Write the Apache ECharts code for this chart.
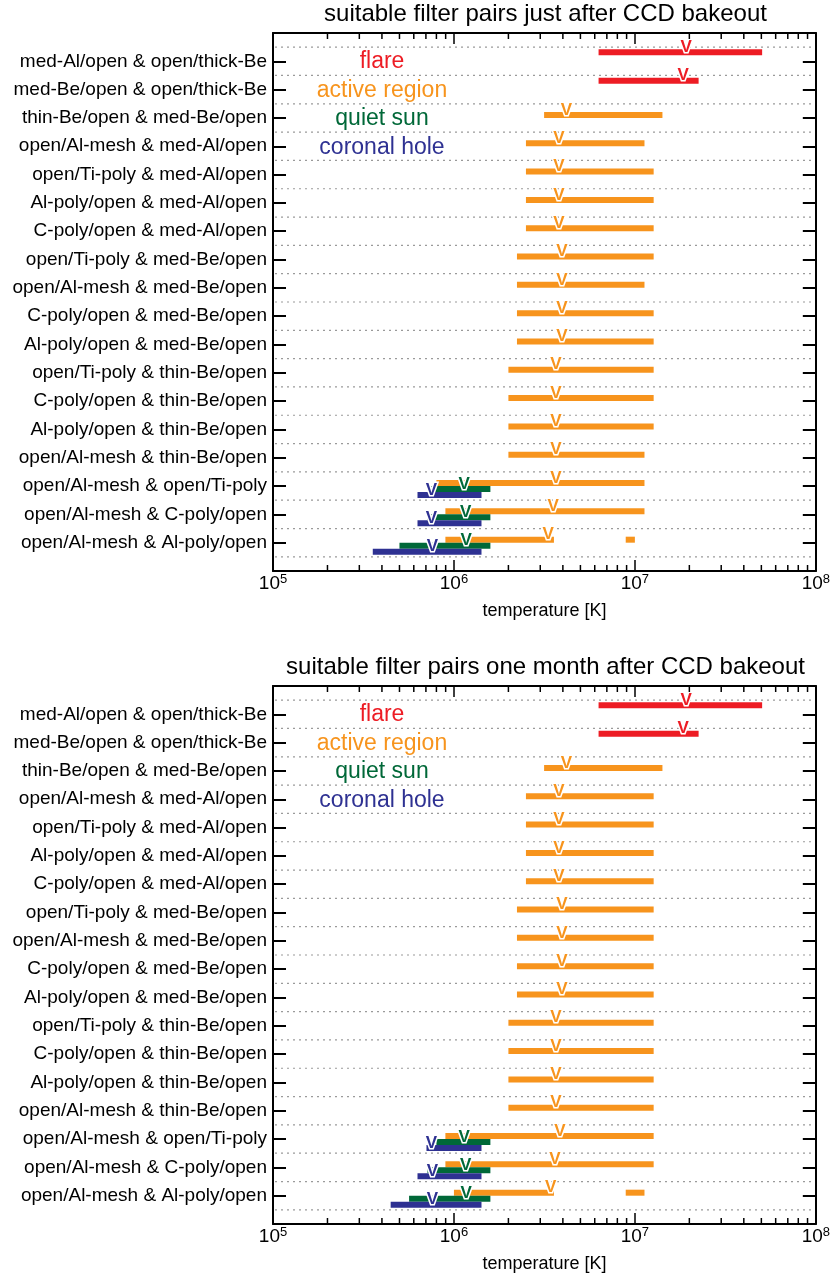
<!DOCTYPE html>
<html>
<head>
<meta charset="utf-8">
<script src="https://cdn.jsdelivr.net/npm/echarts@6/dist/echarts.min.js"></script>
<style>
html,body{margin:0;padding:0;background:#fff;}
#chart{width:833px;height:1278px;}
</style>
</head>
<body>
<div id="chart"></div>
<script>
// ---------------- data ----------------
const categories = [
  'med-Al/open & open/thick-Be',
  'med-Be/open & open/thick-Be',
  'thin-Be/open & med-Be/open',
  'open/Al-mesh & med-Al/open',
  'open/Ti-poly & med-Al/open',
  'Al-poly/open & med-Al/open',
  'C-poly/open & med-Al/open',
  'open/Ti-poly & med-Be/open',
  'open/Al-mesh & med-Be/open',
  'C-poly/open & med-Be/open',
  'Al-poly/open & med-Be/open',
  'open/Ti-poly & thin-Be/open',
  'C-poly/open & thin-Be/open',
  'Al-poly/open & thin-Be/open',
  'open/Al-mesh & thin-Be/open',
  'open/Al-mesh & open/Ti-poly',
  'open/Al-mesh & C-poly/open',
  'open/Al-mesh & Al-poly/open'
];
const chartTitles = [
  'suitable filter pairs just after CCD bakeout',
  'suitable filter pairs one month after CCD bakeout'
];
const regionNames = ['flare', 'active region', 'quiet sun', 'coronal hole'];
const xMinorTicks = [2e5,3e5,4e5,5e5,6e5,7e5,8e5,9e5, 2e6,3e6,4e6,5e6,6e6,7e6,8e6,9e6, 2e7,3e7,4e7,5e7,6e7,7e7,8e7,9e7];

// segments: [row, T_low, T_high] ; peaks: [row, T_peak]   (temperature in K)
const flareSegTop = [[0, 6.3e6, 5.05e7], [1, 6.3e6, 2.25e7]];
const flarePeakTop = [[0, 1.92e7], [1, 1.85e7]];
const activeSegTop = [
  [2, 3.15e6, 1.42e7], [3, 2.5e6, 1.13e7], [4, 2.5e6, 1.27e7], [5, 2.5e6, 1.27e7],
  [6, 2.5e6, 1.27e7], [7, 2.23e6, 1.27e7], [8, 2.23e6, 1.13e7], [9, 2.23e6, 1.27e7],
  [10, 2.23e6, 1.27e7], [11, 2.0e6, 1.27e7], [12, 2.0e6, 1.27e7], [13, 2.0e6, 1.27e7],
  [14, 2.0e6, 1.13e7], [15, 8.0e5, 1.13e7], [16, 8.97e5, 1.13e7], [17, 8.97e5, 3.57e6],
  [17, 8.9e6, 1.0e7]
];
const activePeakTop = [
  [2, 4.19e6], [3, 3.8e6], [4, 3.8e6], [5, 3.8e6], [6, 3.8e6], [7, 3.95e6], [8, 3.95e6],
  [9, 3.95e6], [10, 3.95e6], [11, 3.66e6], [12, 3.66e6], [13, 3.66e6], [14, 3.66e6],
  [15, 3.66e6], [16, 3.53e6], [17, 3.32e6]
];
const quietSegTop = [[15, 7.5e5, 1.59e6], [16, 7.14e5, 1.59e6], [17, 5.0e5, 1.59e6]];
const quietPeakTop = [[15, 1.14e6], [16, 1.16e6], [17, 1.17e6]];
const coronalSegTop = [[15, 6.29e5, 1.42e6], [16, 6.29e5, 1.42e6], [17, 3.56e5, 1.42e6]];
const coronalPeakTop = [[15, 7.5e5], [16, 7.5e5], [17, 7.6e5]];

const flareSegBot = [[0, 6.3e6, 5.05e7], [1, 6.3e6, 2.25e7]];
const flarePeakBot = [[0, 1.92e7], [1, 1.85e7]];
const activeSegBot = [
  [2, 3.15e6, 1.42e7], [3, 2.5e6, 1.27e7], [4, 2.5e6, 1.27e7], [5, 2.5e6, 1.27e7],
  [6, 2.5e6, 1.27e7], [7, 2.23e6, 1.27e7], [8, 2.23e6, 1.27e7], [9, 2.23e6, 1.27e7],
  [10, 2.23e6, 1.27e7], [11, 2.0e6, 1.27e7], [12, 2.0e6, 1.27e7], [13, 2.0e6, 1.27e7],
  [14, 2.0e6, 1.27e7], [15, 8.97e5, 1.27e7], [16, 8.97e5, 1.27e7], [17, 1.0e6, 3.57e6],
  [17, 8.9e6, 1.13e7]
];
const activePeakBot = [
  [2, 4.19e6], [3, 3.8e6], [4, 3.8e6], [5, 3.8e6], [6, 3.8e6], [7, 3.95e6], [8, 3.95e6],
  [9, 3.95e6], [10, 3.95e6], [11, 3.66e6], [12, 3.66e6], [13, 3.66e6], [14, 3.66e6],
  [15, 3.85e6], [16, 3.62e6], [17, 3.42e6]
];
const quietSegBot = [[15, 8.0e5, 1.59e6], [16, 7.14e5, 1.59e6], [17, 5.65e5, 1.59e6]];
const quietPeakBot = [[15, 1.14e6], [16, 1.16e6], [17, 1.17e6]];
const coronalSegBot = [[15, 7.05e5, 1.42e6], [16, 6.29e5, 1.42e6], [17, 4.47e5, 1.42e6]];
const coronalPeakBot = [[15, 7.51e5], [16, 7.6e5], [17, 7.6e5]];

// ---------------- style ----------------
const FONT = "'Liberation Sans', Arial, Helvetica, sans-serif";
const regionColors = ['#ED1C24', '#F7941D', '#006838', '#2E3192'];
const barOffsets = [-9, -3, 3, 9];   // px offset of each region's bar from the row centre
const BAR_H = 6;
const gridTops = [33, 686];
const GRID_H = 538;
const GRID_LEFT = 273, GRID_RIGHT = 15;

const chart = echarts.init(document.getElementById('chart'), null, {renderer: 'canvas'});

const panels = [
  {seg: [flareSegTop, activeSegTop, quietSegTop, coronalSegTop],
   peak: [flarePeakTop, activePeakTop, quietPeakTop, coronalPeakTop]},
  {seg: [flareSegBot, activeSegBot, quietSegBot, coronalSegBot],
   peak: [flarePeakBot, activePeakBot, quietPeakBot, coronalPeakBot]}
];

const gridLineRows = categories.map((c, i) => i - 0.5).concat([categories.length - 0.5]);

const grids = [], xAxes = [], yAxes = [], series = [], graphics = [];

panels.forEach((p, gi) => {
  grids.push({left: GRID_LEFT, right: GRID_RIGHT, top: gridTops[gi], height: GRID_H, containLabel: false});
  const axisLine = {show: true, onZero: false, lineStyle: {color: '#000', width: 2}};
  xAxes.push({
    type: 'log', logBase: 10, min: 1e5, max: 1e8, gridIndex: gi, position: 'bottom',
    axisLine: axisLine,
    axisTick: {show: true, inside: true, length: 11, lineStyle: {color: '#000', width: 1.5}},
    splitLine: {show: false},
    axisLabel: {
      margin: 2,
      formatter: v => '{b|10}{s|' + Math.round(Math.log10(v)) + '}',
      rich: {
        b: {fontSize: 19, fontFamily: FONT, color: '#000', lineHeight: 20, verticalAlign: 'bottom'},
        s: {fontSize: 13, fontFamily: FONT, color: '#000', lineHeight: 13, verticalAlign: 'top'}
      }
    },
    name: 'temperature [K]', nameLocation: 'middle', nameGap: 31,
    nameTextStyle: {fontSize: 18, fontFamily: FONT, color: '#000'}
  });
  xAxes.push({
    type: 'log', logBase: 10, min: 1e5, max: 1e8, gridIndex: gi, position: 'top',
    axisLine: axisLine,
    axisTick: {show: true, inside: true, length: 11, lineStyle: {color: '#000', width: 1.5}},
    splitLine: {show: false}, axisLabel: {show: false}
  });
  yAxes.push({
    type: 'value', min: -1, max: 18, interval: 1, inverse: true, gridIndex: gi, position: 'left',
    axisLine: axisLine,
    axisTick: {show: true, inside: true, length: 13, lineStyle: {color: '#000', width: 2}},
    splitLine: {show: false},
    axisLabel: {
      margin: 6, fontSize: 19, fontFamily: FONT, color: '#000',
      formatter: v => categories[v] || ''
    }
  });
  yAxes.push({
    type: 'value', min: -1, max: 18, interval: 1, inverse: true, gridIndex: gi, position: 'right',
    axisLine: axisLine,
    axisTick: {show: true, inside: true, length: 13, lineStyle: {color: '#000', width: 2}},
    splitLine: {show: false}, axisLabel: {show: false}
  });
  const xi = gi * 2, yi = gi * 2;

  // dotted separators
  series.push({
    type: 'custom', xAxisIndex: xi, yAxisIndex: yi, silent: true, z: 1,
    data: gridLineRows.map(r => [1e6, r]),
    encode: {x: 0, y: 1},
    renderItem: (params, api) => {
      const cs = params.coordSys;
      const y = api.coord([1e6, api.value(1)])[1];
      return {type: 'line', shape: {x1: cs.x + 2, y1: y, x2: cs.x + cs.width - 2, y2: y},
        style: {stroke: '#9a9a9a', lineWidth: 1.2, lineDash: [2, 4]}};
    }
  });
  // minor ticks
  series.push({
    type: 'custom', xAxisIndex: xi, yAxisIndex: yi, silent: true, z: 5, clip: false,
    data: xMinorTicks.map(v => [v, 0]),
    encode: {x: 0, y: 1},
    renderItem: (params, api) => {
      const cs = params.coordSys;
      const x = api.coord([api.value(0), 0])[0];
      const b = cs.y + cs.height;
      return {type: 'group', children: [
        {type: 'line', shape: {x1: x, y1: b, x2: x, y2: b - 6}, style: {stroke: '#000', lineWidth: 1.5}},
        {type: 'line', shape: {x1: x, y1: cs.y, x2: x, y2: cs.y + 6}, style: {stroke: '#000', lineWidth: 1.5}}
      ]};
    }
  });
  // bars
  p.seg.forEach((segs, ri) => {
    series.push({
      type: 'custom', name: regionNames[ri], xAxisIndex: xi, yAxisIndex: yi, z: 2 + ri * 0.01,
      data: segs, encode: {x: [1, 2], y: 0},
      renderItem: (params, api) => {
        const row = api.value(0);
        const a = api.coord([api.value(1), row]);
        const b = api.coord([api.value(2), row]);
        return {type: 'rect',
          shape: {x: a[0], y: a[1] + barOffsets[ri] - BAR_H / 2, width: b[0] - a[0], height: BAR_H},
          style: {fill: regionColors[ri]}};
      }
    });
  });
  // peak markers
  p.peak.forEach((pk, ri) => {
    series.push({
      type: 'custom', name: regionNames[ri] + ' peak', xAxisIndex: xi, yAxisIndex: yi, z: 3 + ri * 0.01,
      data: pk, encode: {x: 1, y: 0},
      renderItem: (params, api) => {
        const c = api.coord([api.value(1), api.value(0)]);
        return {type: 'text', x: c[0], y: c[1] + barOffsets[ri] - 5,
          style: {text: 'V', fill: regionColors[ri], stroke: '#fff', lineWidth: 3,
            fontSize: 17, fontWeight: 'bold', fontFamily: FONT,
            align: 'center', verticalAlign: 'middle',
            textAlign: 'center', textVerticalAlign: 'middle'}};
      }
    });
  });
  // titles and in-plot legend
  graphics.push({type: 'text', x: GRID_LEFT + (833 - GRID_LEFT - GRID_RIGHT) / 2, y: gridTops[gi] - 19,
    style: {text: chartTitles[gi], fontSize: 24, fontFamily: FONT, fill: '#000', align: 'center', verticalAlign: 'middle',
      textAlign: 'center', textVerticalAlign: 'middle'}});
  regionNames.forEach((n, ri) => {
    graphics.push({type: 'text', x: 382, y: gridTops[gi] + 29 + ri * 28.4,
      style: {text: n, fontSize: 23, fontFamily: FONT, fill: regionColors[ri], align: 'center', verticalAlign: 'middle',
        textAlign: 'center', textVerticalAlign: 'middle'}});
  });
});

chart.setOption({
  backgroundColor: '#fff',
  animation: false,
  grid: grids,
  xAxis: xAxes,
  yAxis: yAxes,
  series: series,
  graphic: graphics
});
</script>
</body>
</html>
